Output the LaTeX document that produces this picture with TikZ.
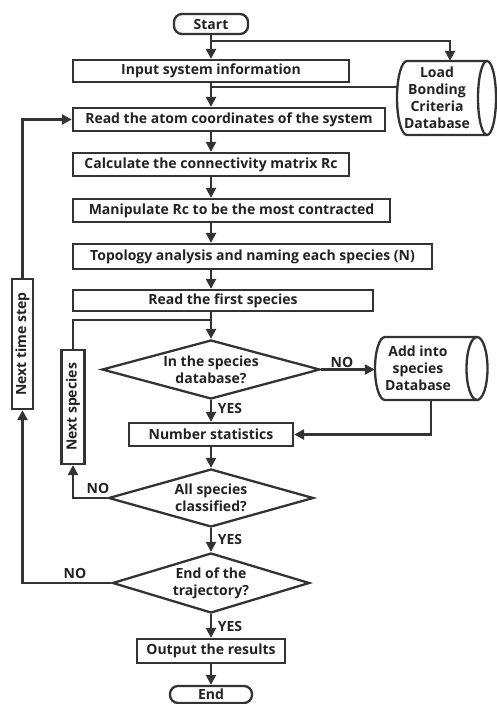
\documentclass[tikz,border=0pt]{standalone}
\usepackage{fontspec}
\setmainfont{Open Sans}
\usetikzlibrary{shapes.geometric,arrows.meta,calc}
\definecolor{ln}{HTML}{333333}
\definecolor{tx}{HTML}{222222}
\begin{document}
\begin{tikzpicture}[x=1pt,y=1pt,
  txt/.style={font=\bfseries\fontsize{14}{17}\selectfont, text=tx},
  box/.style={txt, draw=ln, line width=2.3pt, rectangle, inner sep=0pt, minimum height=23pt},
  term/.style={box, rounded corners=8pt},
  dec/.style={txt, draw=ln, line width=2.3pt, diamond, inner sep=0pt, align=center},
  arr/.style={draw=ln, line width=2.3pt, -{Triangle[length=10pt,width=10pt]}},
  ln2/.style={draw=ln, line width=2.3pt},
  lab/.style={txt, inner sep=0pt},
  db/.style={txt, inner sep=0pt, align=center}]
\useasboundingbox (0,0) rectangle (496,-704);
% nodes
\node[term, minimum width=74pt, minimum height=20pt] (start) at (211,-24) {Start};
\node[box, minimum width=276pt, minimum height=22pt] (input) at (211,-71) {Input system information};
\node[box, minimum width=312pt] (read) at (229,-119.5) {Read the atom coordinates of the system};
\node[box, minimum width=276pt] (calc) at (211,-164.5) {Calculate the connectivity matrix Rc};
\node[box, minimum width=317pt] (manip) at (231.5,-210.5) {Manipulate Rc to be the most contracted};
\node[box, minimum width=359pt, minimum height=25pt] (topo) at (252.5,-256.5) {Topology analysis and naming each species (N)};
\node[box, minimum width=300pt, minimum height=21pt] (first) at (223,-300.5) {Read the first species};
\node[dec, minimum width=218pt, minimum height=59pt, aspect=3.69] (d1) at (211,-369.5) {In the species\\database?};
\node[box, minimum width=164pt] (numstat) at (211,-434.5) {Number statistics};
\node[dec, minimum width=205pt, minimum height=58pt, aspect=3.53] (d2) at (211,-498) {All species\\classified?};
\node[dec, minimum width=197pt, minimum height=60pt, aspect=3.28] (d3) at (211,-583) {End of the\\trajectory?};
\node[box, minimum width=148pt, minimum height=24pt] (output) at (211,-651) {Output the results};
\node[term, minimum width=82pt, minimum height=17pt] (end) at (211,-694.5) {End};
\node[box, minimum width=23pt, minimum height=114pt] (nextsp) at (73,-407) {\rotatebox{90}{Next species}};
\node[box, minimum width=21pt, minimum height=130pt] (nts) at (22.5,-344) {\rotatebox{90}{Next time step}};
% databases
\node[db, minimum width=80pt, minimum height=74pt] (db1) at (437,-98) {Load\\Bonding\\Criteria\\Database};
\draw[ln2] (487,-61) -- (407,-61) arc[start angle=90, end angle=270, x radius=10, y radius=37] -- (487,-135);
\draw[ln2] (487,-98) ellipse[x radius=9, y radius=37];
\node[db, minimum width=86pt, minimum height=63pt] (db2) at (418,-368.5) {Add into\\species\\Database};
\draw[ln2] (477,-337) -- (385,-337) arc[start angle=90, end angle=270, x radius=10, y radius=31.5] -- (477,-400);
\draw[ln2] (477,-368.5) ellipse[x radius=10.5, y radius=31.5];
% coordinates
\coordinate (b1) at (211,-41);
\coordinate (c87) at (211,-87);
\coordinate (j1) at (211,-320);
% connectors
\draw[arr] (start.south) -- (input.north -| start.south);
\draw[arr] (b1) -| (db1.north -| 450,0);
\draw[ln2] (db1.west |- c87) -- (c87);
\draw[arr] (input.south) -- (read.north -| input.south);
\draw[arr] (read.south -| calc.north) -- (calc.north);
\draw[arr] (calc.south) -- (manip.north -| calc.south);
\draw[arr] (manip.south -| calc.south) -- (topo.north -| calc.south);
\draw[arr] (topo.south -| calc.south) -- (first.north -| calc.south);
\draw[arr] (first.south -| d1.north) -- (d1.north);
\draw[arr] (d1.east) -- (d1.east -| db2.west);
\draw[arr] (d1.south) -- (numstat.north);
\draw[arr] ($(db2.south)+(13,0)$) |- (numstat.east);
\draw[arr] (numstat.south) -- (d2.north);
\draw[arr] (d2.south) -- (d3.north);
\draw[arr] (d3.south) -- (output.north);
\draw[arr] (output.south) -- (end.north);
\draw[arr] (d2.west) -| (nextsp.south);
\draw[ln2] (nextsp.north) |- (j1);
\draw[arr] (d3.west) -| (nts.south);
\draw[arr] (nts.north) |- (read.west);
% labels
\node[lab] (no1) at (342,-362) {NO};
\node[lab] (yes1) at (230,-408) {YES};
\node[lab] (no2) at (98,-488) {NO};
\node[lab] (yes2) at (230,-539) {YES};
\node[lab] (no3) at (75,-573) {NO};
\node[lab] (yes3) at (230,-626) {YES};
\end{tikzpicture}
\end{document}
